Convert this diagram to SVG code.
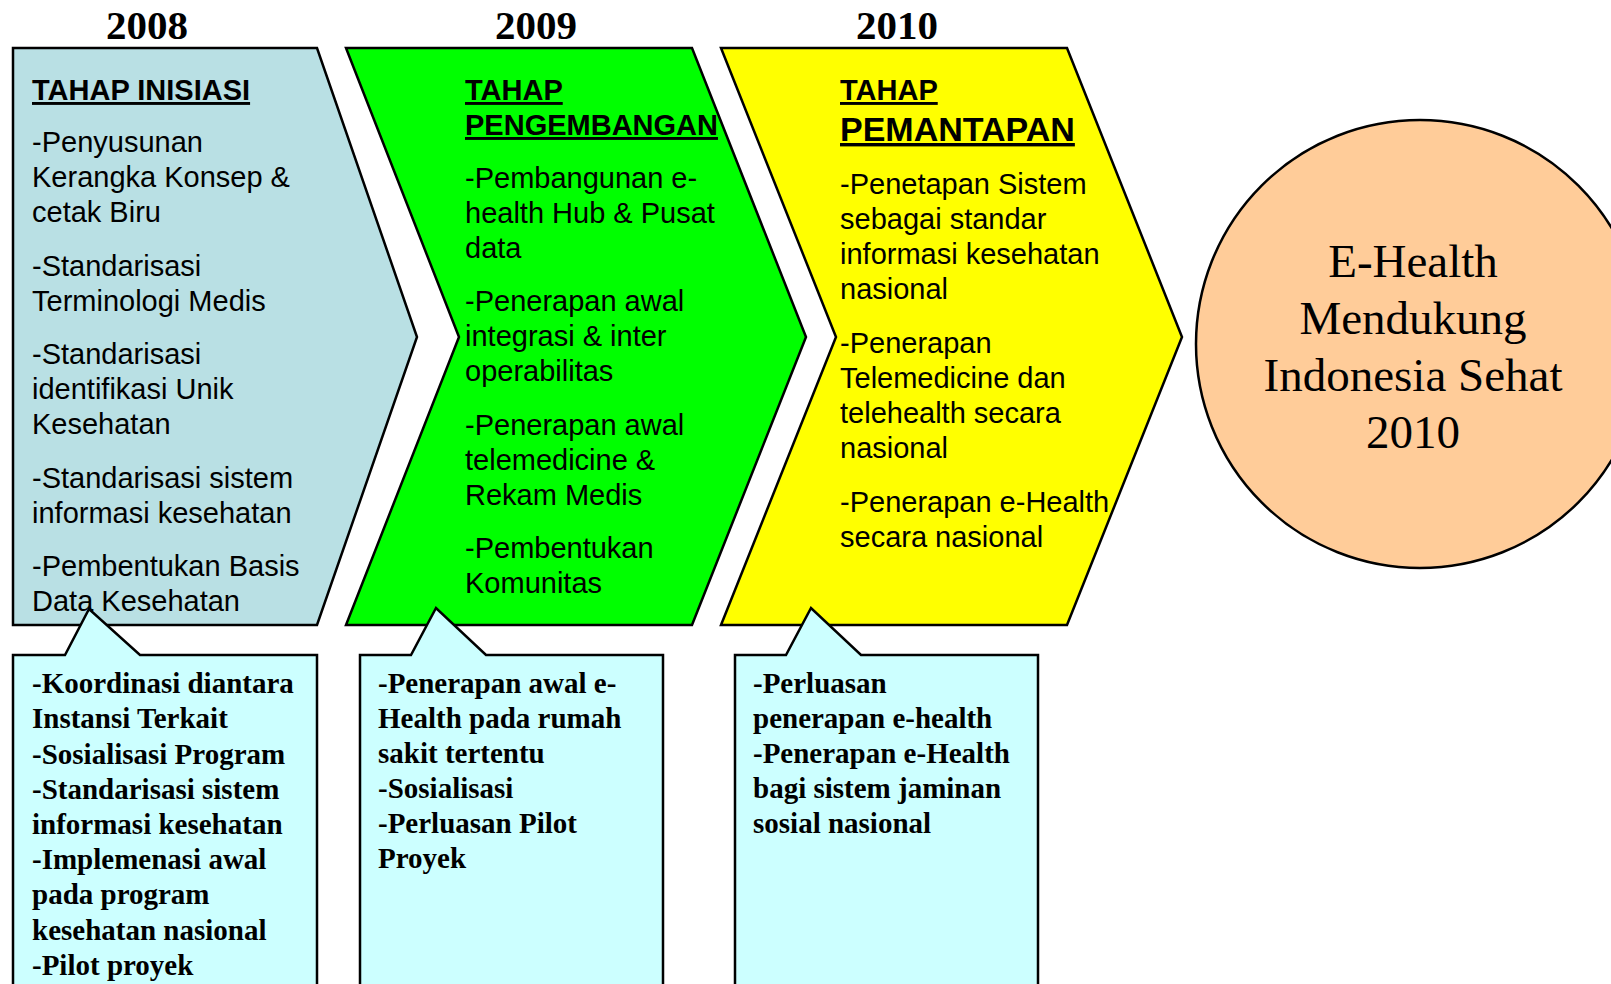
<svg xmlns="http://www.w3.org/2000/svg" width="1611" height="984" viewBox="0 0 1611 984">
<style>
.shape{stroke:#000;stroke-width:2.5;stroke-linejoin:miter}
.year{font-family:"Liberation Serif","Times New Roman",serif;font-weight:bold;font-size:41px;text-anchor:middle;fill:#000}
.title{font-family:"Liberation Sans",Arial,sans-serif;font-weight:bold;font-size:29px;text-decoration:underline;fill:#000}
.body{font-family:"Liberation Sans",Arial,sans-serif;font-size:29px;fill:#000}
.note{font-family:"Liberation Serif","Times New Roman",serif;font-weight:bold;font-size:29px;fill:#000}
.goal{font-family:"Liberation Serif","Times New Roman",serif;font-size:47px;text-anchor:middle;fill:#000}
</style>
<rect width="1611" height="984" fill="#fff"/>
<g id="years">
<text class="year" x="147" y="39">2008</text>
<text class="year" x="536" y="39">2009</text>
<text class="year" x="897" y="39">2010</text>
</g>
<g id="stage-inisiasi">
<path class="shape" fill="#B9E0E4" d="M13,48 L317,48 L417,337 L317,625 L13,625 Z"/>
<text class="title" x="32" y="100">TAHAP INISIASI</text>
<text class="body" x="32" y="152">-Penyusunan</text>
<text class="body" x="32" y="187">Kerangka Konsep &amp;</text>
<text class="body" x="32" y="222">cetak Biru</text>
<text class="body" x="32" y="276">-Standarisasi</text>
<text class="body" x="32" y="311">Terminologi Medis</text>
<text class="body" x="32" y="364">-Standarisasi</text>
<text class="body" x="32" y="399">identifikasi Unik</text>
<text class="body" x="32" y="434">Kesehatan</text>
<text class="body" x="32" y="488">-Standarisasi sistem</text>
<text class="body" x="32" y="523">informasi kesehatan</text>
<text class="body" x="32" y="576">-Pembentukan Basis</text>
<text class="body" x="32" y="611">Data Kesehatan</text>
</g>
<g id="stage-pengembangan">
<path class="shape" fill="#00FF00" d="M346,48 L692,48 L806,337 L692,625 L346,625 L459,337 Z"/>
<text class="title" x="465" y="100">TAHAP</text>
<text class="title" x="465" y="135">PENGEMBANGAN</text>
<text class="body" x="465" y="188">-Pembangunan e-</text>
<text class="body" x="465" y="223">health Hub &amp; Pusat</text>
<text class="body" x="465" y="258">data</text>
<text class="body" x="465" y="311">-Penerapan awal</text>
<text class="body" x="465" y="346">integrasi &amp; inter</text>
<text class="body" x="465" y="381">operabilitas</text>
<text class="body" x="465" y="435">-Penerapan awal</text>
<text class="body" x="465" y="470">telemedicine &amp;</text>
<text class="body" x="465" y="505">Rekam Medis</text>
<text class="body" x="465" y="558">-Pembentukan</text>
<text class="body" x="465" y="593">Komunitas</text>
</g>
<g id="stage-pemantapan">
<path class="shape" fill="#FFFF00" d="M721,48 L1067,48 L1182,337 L1067,625 L721,625 L836,337 Z"/>
<text class="title" x="840" y="100">TAHAP</text>
<text class="title" x="840" y="141" style="font-size:34px">PEMANTAPAN</text>
<text class="body" x="840" y="194">-Penetapan Sistem</text>
<text class="body" x="840" y="229">sebagai standar</text>
<text class="body" x="840" y="264">informasi kesehatan</text>
<text class="body" x="840" y="299">nasional</text>
<text class="body" x="840" y="353">-Penerapan</text>
<text class="body" x="840" y="388">Telemedicine dan</text>
<text class="body" x="840" y="423">telehealth secara</text>
<text class="body" x="840" y="458">nasional</text>
<text class="body" x="840" y="512">-Penerapan e-Health</text>
<text class="body" x="840" y="547">secara nasional</text>
</g>
<g id="goal">
<circle class="shape" fill="#FFCC99" cx="1420" cy="344" r="224"/>
<text class="goal" x="1413" y="277">E-Health</text>
<text class="goal" x="1413" y="334">Mendukung</text>
<text class="goal" x="1413" y="391">Indonesia Sehat</text>
<text class="goal" x="1413" y="448">2010</text>
</g>
<g id="note-2008">
<path class="shape" fill="#CCFFFF" d="M13,655 L65,655 L89,609 L140,655 L317,655 L317,995 L13,995 Z"/>
<text class="note" x="32" y="693">-Koordinasi diantara</text>
<text class="note" x="32" y="728">Instansi Terkait</text>
<text class="note" x="32" y="764">-Sosialisasi Program</text>
<text class="note" x="32" y="799">-Standarisasi sistem</text>
<text class="note" x="32" y="834">informasi kesehatan</text>
<text class="note" x="32" y="869">-Implemenasi awal</text>
<text class="note" x="32" y="904">pada program</text>
<text class="note" x="32" y="940">kesehatan nasional</text>
<text class="note" x="32" y="975">-Pilot proyek</text>
</g>
<g id="note-2009">
<path class="shape" fill="#CCFFFF" d="M360,655 L411,655 L436,608 L486,655 L663,655 L663,995 L360,995 Z"/>
<text class="note" x="378" y="693">-Penerapan awal e-</text>
<text class="note" x="378" y="728">Health pada rumah</text>
<text class="note" x="378" y="763">sakit tertentu</text>
<text class="note" x="378" y="798">-Sosialisasi</text>
<text class="note" x="378" y="833">-Perluasan Pilot</text>
<text class="note" x="378" y="868">Proyek</text>
</g>
<g id="note-2010">
<path class="shape" fill="#CCFFFF" d="M735,655 L786,655 L811,608 L861,655 L1038,655 L1038,995 L735,995 Z"/>
<text class="note" x="753" y="693">-Perluasan</text>
<text class="note" x="753" y="728">penerapan e-health</text>
<text class="note" x="753" y="763">-Penerapan e-Health</text>
<text class="note" x="753" y="798">bagi sistem jaminan</text>
<text class="note" x="753" y="833">sosial nasional</text>
</g>
<g id="connectors"/>
</svg>
